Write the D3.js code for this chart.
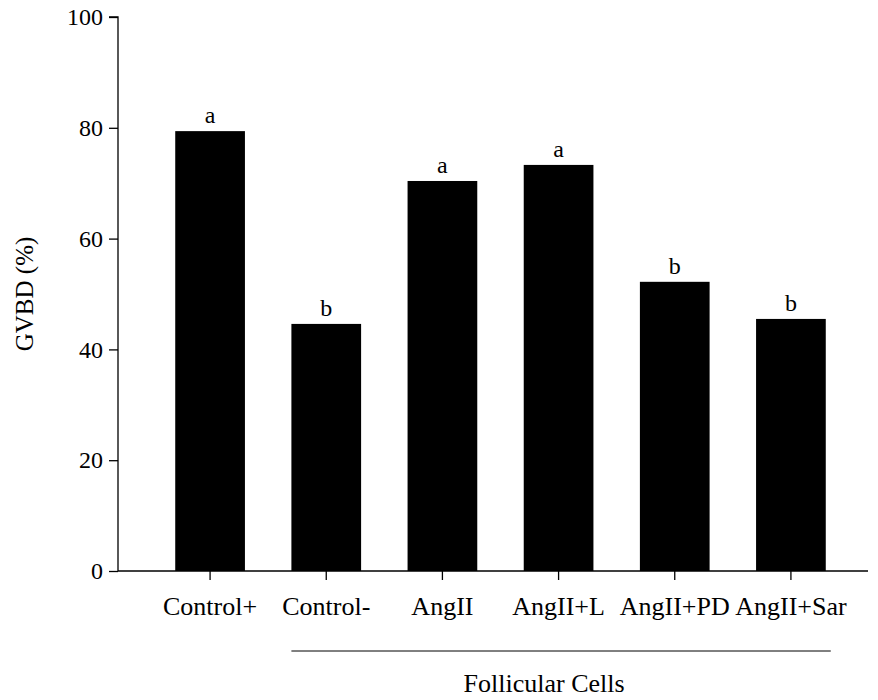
<!DOCTYPE html>
<html>
<head>
<meta charset="utf-8">
<script src="https://d3js.org/d3.v7.min.js"></script>
<style>
  body { margin:0; background:#fff; }
  svg text { font-family:"Liberation Serif", "Times New Roman", "DejaVu Serif", serif; fill:#000; }
</style>
</head>
<body>
<div id="chart"></div>
<script>
// data
var groups = ["Control+", "Control-", "AngII", "AngII+L", "AngII+PD", "AngII+Sar"];
var gvbd = [79.4, 44.6, 70.4, 73.3, 52.2, 45.5];
var letters = ["a", "b", "a", "a", "b", "b"];
var yTicks = [0, 20, 40, 60, 80, 100];
var bracketGroups = ["Control-", "AngII+Sar"];
var bracketLabel = "Follicular Cells";

var W = 878, H = 700;
var serif = '"Liberation Serif", "Times New Roman", "DejaVu Serif", serif';
var svg = d3.select("#chart").append("svg")
  .attr("width", W).attr("height", H);

var x0 = 118, x1 = 868, yTop = 17, yBot = 571;

var x = d3.scaleBand()
  .domain(groups)
  .range([152, 849])
  .paddingInner(0.4)
  .paddingOuter(0.2);

var y = d3.scaleLinear()
  .domain([0, 100])
  .range([yBot, yTop]);

// y axis
var yAxis = svg.append("g")
  .attr("transform", "translate(" + x0 + ",0)")
  .call(d3.axisLeft(y).tickValues(yTicks).tickSize(9).tickPadding(6));
yAxis.attr("font-family", null);
yAxis.select(".domain").attr("d", "M-9," + yTop + "H0V" + yBot);
yAxis.selectAll("text").style("font-size", "24px").style("font-family", serif);
yAxis.selectAll("line, path").attr("stroke", "#000").attr("stroke-width", 1.3);

// x axis
var xAxis = svg.append("g")
  .attr("transform", "translate(0," + yBot + ")")
  .call(d3.axisBottom(x).tickSize(9).tickPadding(17));
xAxis.attr("font-family", null);
xAxis.select(".domain").attr("d", "M" + x0 + ",0H" + x1);
xAxis.selectAll("text").style("font-size", "26px").style("font-family", serif);
xAxis.selectAll("line, path").attr("stroke", "#000").attr("stroke-width", 1.3);

// bars
svg.selectAll(".bar")
  .data(groups)
  .enter().append("rect")
  .attr("class", "bar")
  .attr("x", function(d) { return x(d); })
  .attr("y", function(d, i) { return y(gvbd[i]); })
  .attr("width", x.bandwidth())
  .attr("height", function(d, i) { return yBot - y(gvbd[i]); })
  .attr("fill", "#000");

// significance letters
svg.selectAll(".sig")
  .data(groups)
  .enter().append("text")
  .attr("class", "sig")
  .attr("x", function(d) { return x(d) + x.bandwidth() / 2; })
  .attr("y", function(d, i) { return y(gvbd[i]) - 8; })
  .attr("text-anchor", "middle")
  .style("font-size", "24px")
  .style("font-family", serif)
  .text(function(d, i) { return letters[i]; });

// y label
svg.append("text")
  .attr("transform", "translate(33," + (yTop + yBot) / 2 + ") rotate(-90)")
  .attr("text-anchor", "middle")
  .style("font-size", "25px")
  .style("font-family", serif)
  .text("GVBD (%)");

// bracket line under the follicular-cell groups
var bx0 = x(bracketGroups[0]), bx1 = x(bracketGroups[1]) + x.bandwidth() + 5;
svg.append("line")
  .attr("x1", bx0).attr("x2", bx1)
  .attr("y1", 651).attr("y2", 651)
  .attr("stroke", "#000").attr("stroke-width", 1);

svg.append("text")
  .attr("x", (bx0 + bx1) / 2 - 17)
  .attr("y", 692)
  .attr("text-anchor", "middle")
  .style("font-size", "26px")
  .style("font-family", serif)
  .text(bracketLabel);
</script>
</body>
</html>
